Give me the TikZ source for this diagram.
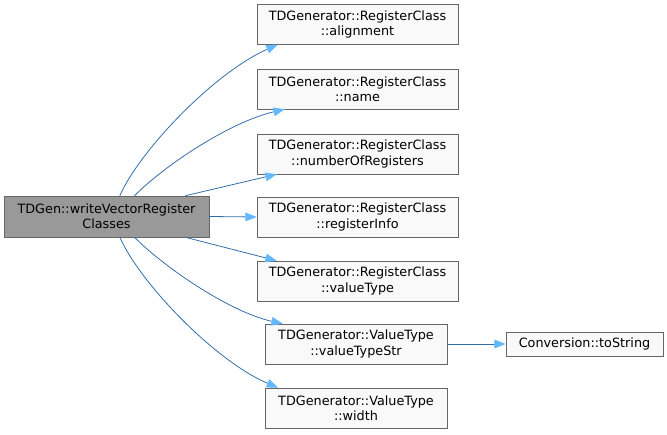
\documentclass[tikz,border=0pt]{standalone}
\usepackage{fontspec}
\setmainfont{DejaVu Sans}
\usetikzlibrary{arrows.meta}
\definecolor{edgeblue}{RGB}{52,110,170}
\definecolor{tipblue}{RGB}{99,184,255}
\definecolor{boxborder}{RGB}{102,102,102}
\definecolor{boxfill}{RGB}{249,249,249}
\definecolor{mainfill}{RGB}{153,153,153}
\tikzset{
  fn/.style={draw=boxborder, fill=boxfill, align=center, inner sep=0pt,
    font=\fontsize{9.6pt}{11.4pt}\selectfont, text=black},
  wide/.style={fn, minimum width=150.75pt, minimum height=30pt},
  mid/.style={fn, minimum width=136.5pt, minimum height=30pt},
  mainbox/.style={fn, fill=mainfill, minimum width=153.75pt, minimum height=30.75pt},
  call/.style={draw=edgeblue, line width=0.6pt,
    -{Triangle[length=8.5pt,width=6.5pt,color=tipblue,fill=tipblue]}}
}
\begin{document}
\begin{tikzpicture}[x=0.75pt,y=-0.75pt]
\useasboundingbox (0,0) rectangle (667,435);
\node[mainbox] (main) at (106.5,216.5) {TDGen::writeVectorRegister\\Classes};
\node[wide] (al) at (357.5,24.5) {TDGenerator::RegisterClass\\::alignment};
\node[wide] (nm) at (357.5,89) {TDGenerator::RegisterClass\\::name};
\node[wide] (nr) at (357.5,154) {TDGenerator::RegisterClass\\::numberOfRegisters};
\node[wide] (ri) at (357.5,217) {TDGenerator::RegisterClass\\::registerInfo};
\node[wide] (vt) at (357.5,281) {TDGenerator::RegisterClass\\::valueType};
\node[mid] (vs) at (356,344) {TDGenerator::ValueType\\::valueTypeStr};
\node[mid] (wd) at (356,408) {TDGenerator::ValueType\\::width};
\node[fn, minimum width=117.75pt, minimum height=18pt] (ts) at (584.5,344) {Conversion::toString};

\draw[call] ([xshift=10pt]main.north) .. controls (140,150) and (215,72) .. ([xshift=15.75pt]al.south west);
\draw[call] ([xshift=21pt]main.north) .. controls (165,165) and (230,122) .. ([xshift=21pt]nm.south west);
\draw[call] ([xshift=-18pt]main.north east) -- ([xshift=15pt]nr.south west);
\draw[call] (main.east) -- (ri.west);
\draw[call] ([xshift=-18pt]main.south east) -- ([xshift=15pt]vt.north west);
\draw[call] ([xshift=21pt]main.south) .. controls (165,268) and (230,312) .. ([xshift=13.5pt]vs.north west);
\draw[call] ([xshift=10pt]main.south) .. controls (140,283) and (215,361) .. ([xshift=10pt]wd.north west);
\draw[call] (vs.east) -- (ts.west);
\end{tikzpicture}
\end{document}
